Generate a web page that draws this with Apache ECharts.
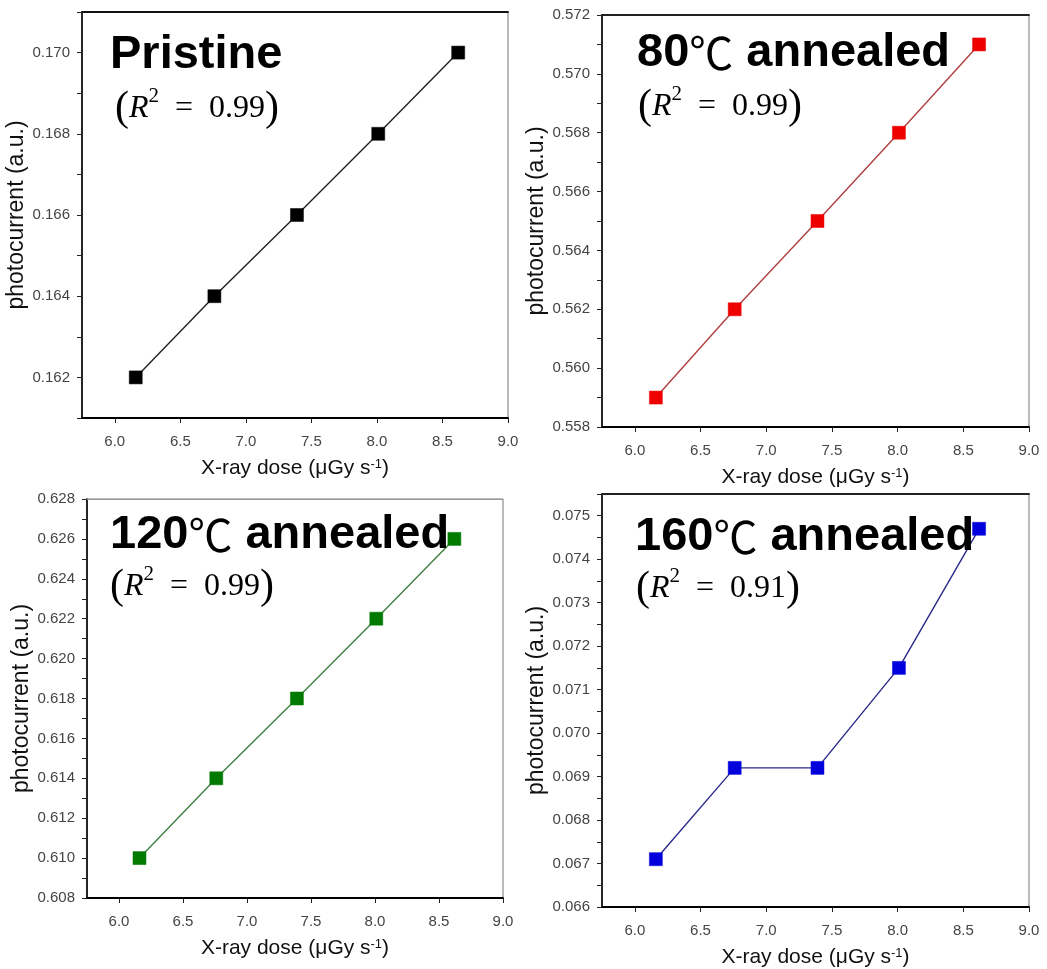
<!DOCTYPE html>
<html>
<head>
<meta charset="utf-8">
<script src="https://cdn.jsdelivr.net/npm/echarts@6/dist/echarts.min.js"></script>
<style>
  html, body { margin: 0; padding: 0; background: #fff; }
  #chart { width: 1047px; height: 969px; }
</style>
</head>
<body>
<div id="chart"></div>
<script>
// ---------------- data ----------------
const doses = [6.16, 6.76, 7.39, 8.01, 8.62];
const pristine = [0.162, 0.164, 0.166, 0.168, 0.170];
const anneal80 = [0.559, 0.562, 0.565, 0.568, 0.571];
const anneal120 = [0.610, 0.614, 0.618, 0.622, 0.626];
const anneal160 = [0.0671, 0.0692, 0.0692, 0.0715, 0.0747];

const panelNames = ['Pristine', '80', '120', '160'];
const r2Values = ['0.99', '0.99', '0.99', '0.91'];

const xTickLabels = [6.0, 6.5, 7.0, 7.5, 8.0, 8.5, 9.0];
const yTicksPristine = [0.162, 0.164, 0.166, 0.168, 0.170];
const yTicks80 = [0.558, 0.560, 0.562, 0.564, 0.566, 0.568, 0.570, 0.572];
const yTicks120 = [0.608, 0.610, 0.612, 0.614, 0.616, 0.618, 0.620, 0.622, 0.624, 0.626, 0.628];
const yTicks160 = [0.066, 0.067, 0.068, 0.069, 0.070, 0.071, 0.072, 0.073, 0.074, 0.075];

// ---------------- layout / style ----------------
const grids = [
  { left: 82, top: 12, width: 426, height: 406 },
  { left: 602, top: 15, width: 427, height: 412 },
  { left: 87, top: 499, width: 416, height: 399 },
  { left: 602, top: 494, width: 427, height: 413 }
];
const yRanges = [
  { min: 0.161, max: 0.171, interval: 0.001, ticks: yTicksPristine },
  { min: 0.558, max: 0.572, interval: 0.001, ticks: yTicks80 },
  { min: 0.608, max: 0.628, interval: 0.001, ticks: yTicks120 },
  { min: 0.066, max: 0.0755, interval: 0.0005, ticks: yTicks160 }
];
const seriesValues = [pristine, anneal80, anneal120, anneal160];
const markerColors = ['#000000', '#ee0000', '#007a00', '#0000dd'];
const lineColors = ['#222222', '#b04040', '#3f7f3f', '#2a2a8a'];
const topBorderColors = ['#111', '#222', '#999', '#222'];
const titlePos = [
  { left: 110, top: 32 },
  { left: 637, top: 30 },
  { left: 110, top: 512 },
  { left: 635, top: 514 }
];
const r2Pos = [
  { left: 115, top: 86 },
  { left: 638, top: 84 },
  { left: 110, top: 564 },
  { left: 636, top: 566 }
];

const FONT = "'Liberation Sans', Arial, sans-serif";
const SERIF = "'Liberation Serif', 'DejaVu Serif', serif";

const gridOpts = grids.map(g => Object.assign({
  show: true, borderColor: '#777', borderWidth: 1, backgroundColor: 'transparent'
}, g));

const xAxes = [];
grids.forEach((g, i) => {
  xAxes.push({
    gridIndex: i, type: 'value', min: 5.75, max: 9.0, interval: 0.25,
    axisLine: { show: true, onZero: false, lineStyle: { color: '#000', width: 1.8 } },
    axisTick: { show: true, customValues: xTickLabels, length: 5, lineStyle: { color: '#222' } },
    axisLabel: { customValues: xTickLabels, formatter: v => v.toFixed(1),
                 fontSize: 15, color: '#444', margin: 16, fontFamily: FONT },
    splitLine: { show: false },
    name: 'X-ray dose (μGy s{sup|-1})', nameLocation: 'middle', nameGap: 40,
    nameTextStyle: { fontSize: 21, color: '#111', fontFamily: FONT,
      rich: { sup: { fontSize: 13, color: '#111', fontFamily: FONT, verticalAlign: 'top' } } }
  });
});
// top frame lines
grids.forEach((g, i) => {
  xAxes.push({
    gridIndex: i, type: 'value', position: 'top', min: 5.75, max: 9.0,
    axisLine: { show: true, onZero: false, lineStyle: { color: topBorderColors[i], width: i === 2 ? 1 : 1.8 } },
    axisTick: { show: false }, axisLabel: { show: false }, splitLine: { show: false }
  });
});

const yAxes = grids.map((g, i) => ({
  gridIndex: i, type: 'value',
  min: yRanges[i].min, max: yRanges[i].max, interval: yRanges[i].interval,
  axisLine: { show: true, onZero: false, lineStyle: { color: '#000', width: 1.6 } },
  axisTick: { show: true, length: 5, lineStyle: { color: '#222' } },
  axisLabel: { customValues: yRanges[i].ticks, formatter: v => v.toFixed(3),
               fontSize: 15, color: '#444', margin: 12, fontFamily: FONT },
  splitLine: { show: false },
  name: 'photocurrent (a.u.)', nameLocation: 'middle', nameGap: 47,
  nameTextStyle: { fontSize: 23, color: '#111', fontFamily: FONT }
}));

const series = seriesValues.map((vals, i) => ({
  type: 'line', xAxisIndex: i, yAxisIndex: i,
  data: doses.map((d, k) => [d, vals[k]]),
  symbol: 'rect', symbolSize: 13, showSymbol: true,
  itemStyle: { color: markerColors[i], borderColor: markerColors[i], borderWidth: 0.5 },
  lineStyle: { color: lineColors[i], width: 1.4 },
  animation: false, z: 3
}));

const titles = [];
panelNames.forEach((nm, i) => {
  const text = i === 0 ? '{b|' + nm + '}' : '{b|' + nm + '}{c|℃}{b| annealed}';
  titles.push({
    text: text, left: titlePos[i].left, top: titlePos[i].top, padding: 0,
    textStyle: {
      rich: {
        b: { fontSize: 47, fontWeight: 'bold', color: '#000', fontFamily: FONT },
        c: { fontSize: 44, fontWeight: 'normal', color: '#000', fontFamily: "'Noto Sans CJK SC', sans-serif" }
      }
    }
  });
  titles.push({
    text: '{p|(}{i|R}{s|2}{t|  =  ' + r2Values[i] + '}{p|)}',
    left: r2Pos[i].left, top: r2Pos[i].top, padding: 0,
    textStyle: {
      fontWeight: 'normal',
      rich: {
        p: { fontSize: 42, fontWeight: 'normal', color: '#000', fontFamily: SERIF, lineHeight: 46 },
        i: { fontSize: 32, fontWeight: 'normal', fontStyle: 'italic', color: '#000', fontFamily: SERIF },
        s: { fontSize: 21, fontWeight: 'normal', color: '#000', fontFamily: SERIF, verticalAlign: 'top' },
        t: { fontSize: 32, fontWeight: 'normal', color: '#000', fontFamily: SERIF }
      }
    }
  });
});

const chart = echarts.init(document.getElementById('chart'), null, { renderer: 'canvas' });
chart.setOption({
  animation: false,
  backgroundColor: '#fff',
  textStyle: { fontFamily: FONT },
  title: titles,
  grid: gridOpts,
  xAxis: xAxes,
  yAxis: yAxes,
  series: series
});
</script>
</body>
</html>
